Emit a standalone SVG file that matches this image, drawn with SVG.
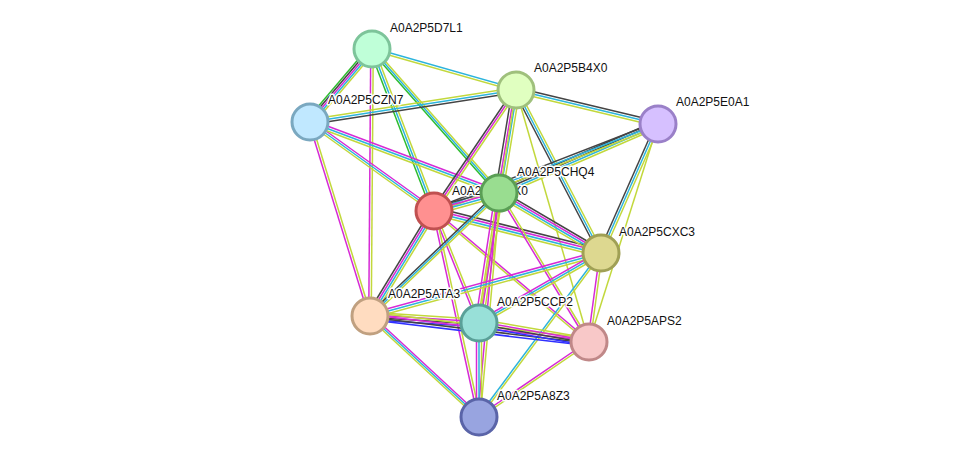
<svg xmlns="http://www.w3.org/2000/svg" xmlns:xlink="http://www.w3.org/1999/xlink" width="975" height="463" viewBox="0 0 975 463">
<style>
.e line{}
use{fill:none;stroke-width:1.5}
.tm{stroke:#c2d83c}.db{stroke:#2cb4dc}.cx{stroke:#444}.ex{stroke:#d62ad6}.nb{stroke:#2ebd2e}.bl{stroke:#3030ff}
circle{stroke-width:3}
text{font-family:"Liberation Sans",Arial,sans-serif;font-size:12px;fill:#111;stroke:#fff;stroke-width:3;paint-order:stroke;stroke-linejoin:round}
</style>
<defs>
<line id="D7B4" x1="372" y1="49" x2="516" y2="90"/>
<line id="D7CZ" x1="372" y1="49" x2="310" y2="122"/>
<line id="D7R" x1="372" y1="49" x2="434" y2="211"/>
<line id="D7CH" x1="372" y1="49" x2="499" y2="193"/>
<line id="D7AT" x1="372" y1="49" x2="370" y2="316"/>
<line id="CZB4" x1="310" y1="122" x2="516" y2="90"/>
<line id="CZR" x1="310" y1="122" x2="434" y2="211"/>
<line id="CZCH" x1="310" y1="122" x2="499" y2="193"/>
<line id="CZAT" x1="310" y1="122" x2="370" y2="316"/>
<line id="B4E0" x1="516" y1="90" x2="658" y2="124"/>
<line id="B4R" x1="516" y1="90" x2="434" y2="211"/>
<line id="B4CH" x1="516" y1="90" x2="499" y2="193"/>
<line id="B4CX" x1="516" y1="90" x2="601" y2="253"/>
<line id="B4AP" x1="516" y1="90" x2="589" y2="342"/>
<line id="B4CC" x1="516" y1="90" x2="479" y2="323"/>
<line id="E0CH" x1="658" y1="124" x2="499" y2="193"/>
<line id="E0R" x1="658" y1="124" x2="434" y2="211"/>
<line id="E0CX" x1="658" y1="124" x2="601" y2="253"/>
<line id="E0AP" x1="658" y1="124" x2="589" y2="342"/>
<line id="RCH" x1="434" y1="211" x2="499" y2="193"/>
<line id="RCX" x1="434" y1="211" x2="601" y2="253"/>
<line id="RAT" x1="434" y1="211" x2="370" y2="316"/>
<line id="RCC" x1="434" y1="211" x2="479" y2="323"/>
<line id="RAP" x1="434" y1="211" x2="589" y2="342"/>
<line id="RA8" x1="434" y1="211" x2="479" y2="417"/>
<line id="CHCX" x1="499" y1="193" x2="601" y2="253"/>
<line id="CHAT" x1="499" y1="193" x2="370" y2="316"/>
<line id="CHCC" x1="499" y1="193" x2="479" y2="323"/>
<line id="CHAP" x1="499" y1="193" x2="589" y2="342"/>
<line id="CHA8" x1="499" y1="193" x2="479" y2="417"/>
<line id="CXAT" x1="601" y1="253" x2="370" y2="316"/>
<line id="CXCC" x1="601" y1="253" x2="479" y2="323"/>
<line id="CXAP" x1="601" y1="253" x2="589" y2="342"/>
<line id="CXA8" x1="601" y1="253" x2="479" y2="417"/>
<line id="ATCC" x1="370" y1="316" x2="479" y2="323"/>
<line id="ATAP" x1="370" y1="316" x2="589" y2="342"/>
<line id="ATA8" x1="370" y1="316" x2="479" y2="417"/>
<line id="CCAP" x1="479" y1="323" x2="589" y2="342"/>
<line id="CCA8" x1="479" y1="323" x2="479" y2="417"/>
<line id="APA8" x1="589" y1="342" x2="479" y2="417"/>
</defs>
<rect width="975" height="463" fill="#fff"/>
<g id="connectors">
<use href="#D7B4" class="db" y="-1.25"/><use href="#D7B4" class="tm" y="1.25"/>
<use href="#D7CZ" class="nb" x="-5"/><use href="#D7CZ" class="cx" x="-2.5"/><use href="#D7CZ" class="ex" x="0"/><use href="#D7CZ" class="db" x="2.5"/><use href="#D7CZ" class="tm" x="5"/>
<use href="#D7R" class="nb" x="-2.5"/><use href="#D7R" class="db" x="0"/><use href="#D7R" class="tm" x="2.5"/>
<use href="#D7CH" class="nb" x="-2.5"/><use href="#D7CH" class="db" x="0"/><use href="#D7CH" class="tm" x="2.5"/>
<use href="#D7AT" class="ex" x="-1.25"/><use href="#D7AT" class="tm" x="1.25"/>
<use href="#CZB4" class="cx" y="2.5"/><use href="#CZB4" class="db" y="0"/><use href="#CZB4" class="tm" y="-2.5"/>
<use href="#CZR" class="ex" y="-2.5"/><use href="#CZR" class="db" y="0"/><use href="#CZR" class="tm" y="2.5"/>
<use href="#CZCH" class="ex" y="-2.5"/><use href="#CZCH" class="db" y="0"/><use href="#CZCH" class="tm" y="2.5"/>
<use href="#CZAT" class="ex" x="-1.25"/><use href="#CZAT" class="tm" x="1.25"/>
<use href="#B4E0" class="cx" y="-2.5"/><use href="#B4E0" class="db" y="0"/><use href="#B4E0" class="tm" y="2.5"/>
<use href="#B4R" class="cx" x="-2.5"/><use href="#B4R" class="ex" x="0"/><use href="#B4R" class="tm" x="2.5"/>
<use href="#B4CH" class="cx" x="-3.75"/><use href="#B4CH" class="ex" x="-1.25"/><use href="#B4CH" class="db" x="1.25"/><use href="#B4CH" class="tm" x="3.75"/>
<use href="#B4CX" class="cx" x="-2.5"/><use href="#B4CX" class="db" x="0"/><use href="#B4CX" class="tm" x="2.5"/>
<use href="#B4AP" class="tm"/>
<use href="#B4CC" class="tm"/>
<use href="#E0CH" class="cx" y="-3.75"/><use href="#E0CH" class="cx" y="-1.25"/><use href="#E0CH" class="db" y="1.25"/><use href="#E0CH" class="tm" y="3.75"/>
<use href="#E0R" class="cx" y="-2.5"/><use href="#E0R" class="db" y="0"/><use href="#E0R" class="tm" y="2.5"/>
<use href="#E0CX" class="cx" x="-2.5"/><use href="#E0CX" class="db" x="0"/><use href="#E0CX" class="tm" x="2.5"/>
<use href="#E0AP" class="tm"/>
<use href="#RCH" class="cx" y="-3.75"/><use href="#RCH" class="ex" y="-1.25"/><use href="#RCH" class="db" y="1.25"/><use href="#RCH" class="tm" y="3.75"/>
<use href="#RCX" class="cx" y="-3.75"/><use href="#RCX" class="ex" y="-1.25"/><use href="#RCX" class="db" y="1.25"/><use href="#RCX" class="tm" y="3.75"/>
<use href="#RAT" class="cx" x="-3.75"/><use href="#RAT" class="ex" x="-1.25"/><use href="#RAT" class="db" x="1.25"/><use href="#RAT" class="tm" x="3.75"/>
<use href="#RCC" class="ex" x="-1.25"/><use href="#RCC" class="tm" x="1.25"/>
<use href="#RAP" class="ex" y="-1.25"/><use href="#RAP" class="tm" y="1.25"/>
<use href="#RA8" class="ex" x="-1.25"/><use href="#RA8" class="tm" x="1.25"/>
<use href="#CHCX" class="cx" y="-3.75"/><use href="#CHCX" class="ex" y="-1.25"/><use href="#CHCX" class="db" y="1.25"/><use href="#CHCX" class="tm" y="3.75"/>
<use href="#CHAT" class="cx" y="-2.5"/><use href="#CHAT" class="db" y="0"/><use href="#CHAT" class="tm" y="2.5"/>
<use href="#CHCC" class="ex" x="-3.75"/><use href="#CHCC" class="tm" x="-1.25"/><use href="#CHCC" class="ex" x="1.25"/><use href="#CHCC" class="tm" x="3.75"/>
<use href="#CHAP" class="ex" x="-1.25"/><use href="#CHAP" class="tm" x="1.25"/>
<use href="#CHA8" class="ex" x="-1.25"/><use href="#CHA8" class="tm" x="1.25"/>
<use href="#CXAT" class="ex" y="-2.5"/><use href="#CXAT" class="db" y="0"/><use href="#CXAT" class="tm" y="2.5"/>
<use href="#CXCC" class="ex" y="-2.5"/><use href="#CXCC" class="db" y="0"/><use href="#CXCC" class="tm" y="2.5"/>
<use href="#CXAP" class="ex" x="-1.25"/><use href="#CXAP" class="tm" x="1.25"/>
<use href="#CXA8" class="db" x="-1.25"/><use href="#CXA8" class="tm" x="1.25"/>
<use href="#ATCC" class="tm" y="-3.75"/><use href="#ATCC" class="ex" y="-1.25"/><use href="#ATCC" class="cx" y="1.25"/><use href="#ATCC" class="bl" y="3.75"/>
<use href="#ATAP" class="tm" y="-3.75"/><use href="#ATAP" class="ex" y="-1.25"/><use href="#ATAP" class="cx" y="1.25"/><use href="#ATAP" class="bl" y="3.75"/>
<use href="#ATA8" class="ex" y="-2.5"/><use href="#ATA8" class="db" y="0"/><use href="#ATA8" class="tm" y="2.5"/>
<use href="#CCAP" class="tm" y="-3.75"/><use href="#CCAP" class="ex" y="-1.25"/><use href="#CCAP" class="cx" y="1.25"/><use href="#CCAP" class="bl" y="3.75"/>
<use href="#CCA8" class="ex" x="-2.5"/><use href="#CCA8" class="db" x="0"/><use href="#CCA8" class="tm" x="2.5"/>
<use href="#APA8" class="ex" y="-1.25"/><use href="#APA8" class="tm" y="1.25"/>
</g>
<g id="n-D7L1"><circle cx="372" cy="49" r="18" fill="#bfffd8" stroke="#7dc49a"/><text x="390" y="32">A0A2P5D7L1</text></g>
<g id="n-B4X0"><circle cx="516" cy="90" r="18" fill="#e0ffc0" stroke="#9fc07c"/><text x="534" y="72">A0A2P5B4X0</text></g>
<g id="n-CZN7"><circle cx="310" cy="122" r="18" fill="#c0e8ff" stroke="#7aa8c0"/><text x="328" y="104">A0A2P5CZN7</text></g>
<g id="n-E0A1"><circle cx="658" cy="124" r="18" fill="#d6c0ff" stroke="#9a80c8"/><text x="676" y="106">A0A2P5E0A1</text></g>
<g id="n-red"><circle cx="434" cy="211" r="18" fill="#ff9090" stroke="#c05050"/><text x="452" y="195">A0A2P5CCX0</text></g>
<g id="n-CHQ4"><circle cx="499" cy="193" r="18" fill="#99dd90" stroke="#5a9f55"/><text x="517" y="176">A0A2P5CHQ4</text></g>
<g id="n-CXC3"><circle cx="601" cy="253" r="18" fill="#ddd890" stroke="#a0a055"/><text x="619" y="236">A0A2P5CXC3</text></g>
<g id="n-ATA3"><circle cx="370" cy="316" r="18" fill="#ffdcc0" stroke="#c0a080"/><text x="388" y="298">A0A2P5ATA3</text></g>
<g id="n-CCP2"><circle cx="479" cy="323" r="18" fill="#98e0d8" stroke="#5aa098"/><text x="497" y="306">A0A2P5CCP2</text></g>
<g id="n-APS2"><circle cx="589" cy="342" r="18" fill="#f8c8c8" stroke="#c08888"/><text x="607" y="325">A0A2P5APS2</text></g>
<g id="n-A8Z3"><circle cx="479" cy="417" r="18" fill="#98a4e0" stroke="#5a64a8"/><text x="497" y="400">A0A2P5A8Z3</text></g>
</svg>
